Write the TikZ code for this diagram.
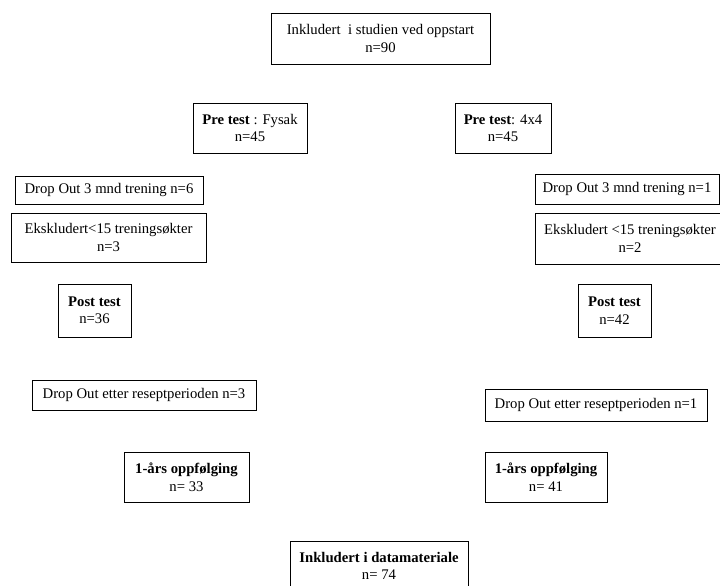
\documentclass[tikz,border=0pt]{standalone}
\usepackage{fontspec}
\setmainfont{Liberation Serif}
\begin{document}
\begin{tikzpicture}[x=1pt,y=-1pt,
  box/.style={draw=black, line width=0.8pt, inner sep=0pt, align=center,
    font=\fontsize{14.7}{17.5}\selectfont, fill=white},
]
\useasboundingbox (0,0) rectangle (720,586);
\node[box, minimum width=219, minimum height=51] (top) at (380.5,38.5) {Inkludert\ \ i studien ved oppstart\\n=90};
\node[box, minimum width=114, minimum height=50] (pref) at (250,128) {\textbf{Pre test} : Fysak\\n=45};
\node[box, minimum width=96, minimum height=50] (pre4) at (503,128) {\textbf{Pre test}: 4x4\\n=45};
\node[box, minimum width=188, minimum height=28] (dol) at (109,190) {Drop Out 3 mnd trening n=6};
\node[box, minimum width=195, minimum height=49] (ekl) at (108.5,237.5) {Ekskludert<15 treningsøkter\\n=3};
\node[box, minimum width=184, minimum height=30] (dor) at (627,189) {Drop Out 3 mnd trening n=1};
\node[box, minimum width=190, minimum height=51] (ekr) at (630,238.5) {Ekskludert <15 treningsøkter\\n=2};
\node[box, minimum width=73, minimum height=53] (postl) at (94.5,310.5) {\textbf{Post test}\\n=36};
\node[box, minimum width=73, minimum height=53] (postr) at (614.5,310.5) {\textbf{Post test}\\n=42};
\node[box, minimum width=224, minimum height=30] (doel) at (144,395) {Drop Out etter reseptperioden n=3};
\node[box, minimum width=222, minimum height=32] (doer) at (596,405) {Drop Out etter reseptperioden n=1};
\node[box, minimum width=125, minimum height=50] (arl) at (186.5,477) {\textbf{1-års oppfølging}\\n= 33};
\node[box, minimum width=122, minimum height=50] (arr) at (546,477) {\textbf{1-års oppfølging}\\n= 41};
\node[box, minimum width=178, minimum height=50] (inkl) at (379,566) {\textbf{Inkludert i datamateriale}\\n= 74};
\end{tikzpicture}
\end{document}
